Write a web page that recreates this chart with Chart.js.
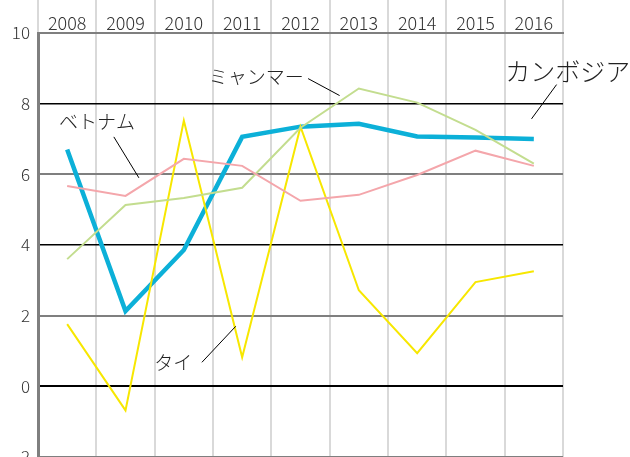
<!DOCTYPE html>
<html>
<head>
<meta charset="utf-8">
<script src="https://cdn.jsdelivr.net/npm/chart.js@4"></script>
<style>
  html, body { margin: 0; padding: 0; background: #fff; }
  #wrap { width: 630px; height: 457px; }
</style>
</head>
<body>
<div id="wrap"><canvas id="myChart" width="630" height="457"></canvas></div>
<script>
const years = ["2008", "2009", "2010", "2011", "2012", "2013", "2014", "2015", "2016"];
const cambodia = [6.70, 2.13, 3.86, 7.06, 7.35, 7.43, 7.07, 7.04, 7.00];
const vietnam = [5.67, 5.39, 6.44, 6.24, 5.25, 5.42, 5.98, 6.67, 6.24];
const myanmar = [3.60, 5.13, 5.33, 5.62, 7.32, 8.43, 8.03, 7.26, 6.30];
const thailand = [1.76, -0.68, 7.52, 0.82, 7.35, 2.72, 0.94, 2.95, 3.26];

// Callout labels, placed in data units (category index, value)
const callouts = [
  { text: "ミャンマー", size: 19, at: [3.24, 8.77], from: [4.13, 8.71], to: [4.67, 8.23] },
  { text: "カンボジア", size: 25, at: [8.58, 8.91], from: [8.39, 8.54], to: [7.96, 7.57] },
  { text: "ベトナム", size: 19, at: [0.51, 7.49], from: [0.80, 7.06], to: [1.23, 5.90] },
  { text: "タイ", size: 19, at: [1.82, 0.68], from: [2.31, 0.68], to: [2.89, 1.70] },
];

const fontFamily = "'Noto Sans CJK JP', 'Noto Sans', sans-serif";

const calloutPlugin = {
  id: "callouts",
  afterDraw(chart) {
    const ctx = chart.ctx;
    const xs = chart.scales.x;
    const ys = chart.scales.y;
    // category index -> pixel, allowing fractions
    const px = (i) => {
      const a = xs.getPixelForValue(0);
      const b = xs.getPixelForValue(1);
      return a + (b - a) * i;
    };
    ctx.save();
    callouts.forEach((c) => {
      ctx.strokeStyle = "#000";
      ctx.lineWidth = 1;
      ctx.beginPath();
      ctx.moveTo(px(c.from[0]), ys.getPixelForValue(c.from[1]));
      ctx.lineTo(px(c.to[0]), ys.getPixelForValue(c.to[1]));
      ctx.stroke();

      ctx.fillStyle = "#222";
      ctx.font = "300 " + c.size + "px " + fontFamily;
      ctx.textAlign = "center";
      ctx.textBaseline = "middle";
      ctx.fillText(c.text, px(c.at[0]), ys.getPixelForValue(c.at[1]));
    });
    ctx.restore();
  },
};

function yGridColor(value) {
  if (value === 8 || value === 4 || value === 0) return "#000";
  return "#7f7f7f";
}

// drop the label padding so the plot runs to the canvas edges
function noPadding(scale) {
  scale.paddingTop = 0;
  scale.paddingBottom = 0;
  scale.paddingLeft = 0;
  scale.paddingRight = 0;
}

const ctx = document.getElementById("myChart").getContext("2d");
const myChart = new Chart(ctx, {
  type: "line",
  data: {
    labels: years,
    datasets: [
      { label: "ベトナム", data: vietnam, borderColor: "#f4a6ab", borderWidth: 2 },
      { label: "ミャンマー", data: myanmar, borderColor: "#c3dd8f", borderWidth: 2 },
      { label: "タイ", data: thailand, borderColor: "#f7e700", borderWidth: 2 },
      { label: "カンボジア", data: cambodia, borderColor: "#0cb0d8", borderWidth: 4.5 },
    ],
  },
  options: {
    responsive: false,
    animation: false,
    layout: { autoPadding: false, padding: { top: 0, right: 67, bottom: 0, left: 0 } },
    elements: {
      point: { radius: 0 },
      line: { tension: 0, fill: false, borderJoinStyle: "miter" },
    },
    plugins: {
      legend: { display: false },
      tooltip: { enabled: false },
    },
    scales: {
      x: {
        position: "top",
        offset: true,
        grid: {
          offset: true,
          color: "#d9d9d9",
          lineWidth: 2,
          drawTicks: true,
          tickLength: 33,
          tickColor: "#d9d9d9",
        },
        border: { color: "#7f7f7f", width: 2 },
        ticks: {
          color: "#333",
          padding: -34,
          font: { family: fontFamily, size: 18, weight: 300 },
          maxRotation: 0,
        },
        afterFit(scale) {
          scale.height = 33;
          noPadding(scale);
        },
      },
      y: {
        min: -2,
        max: 10,
        ticks: {
          stepSize: 2,
          color: "#333",
          padding: 8,
          font: { family: fontFamily, size: 17, weight: 300 },
        },
        grid: {
          drawTicks: false,
          color: (c) => yGridColor(c.tick.value),
          lineWidth: (c) => (c.tick.value === 8 || c.tick.value === 4 ? 1.5 : 2),
        },
        border: { color: "#7f7f7f", width: 3 },
        afterFit(scale) {
          scale.width = 38;
          noPadding(scale);
        },
      },
    },
  },
  plugins: [calloutPlugin],
});
</script>
</body>
</html>
